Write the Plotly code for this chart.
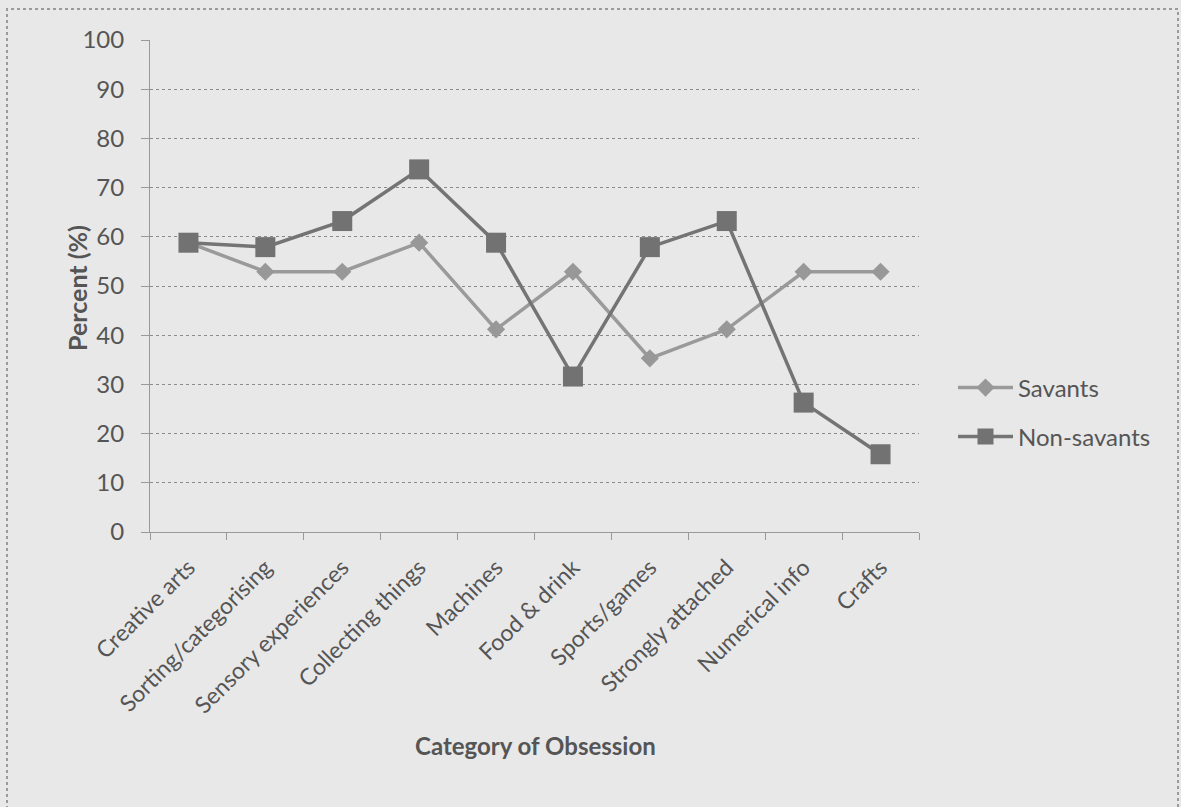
import plotly.graph_objects as go

# Categories of obsession and percentages for each group
categories = [
    "Creative arts", "Sorting/categorising", "Sensory experiences",
    "Collecting things", "Machines", "Food & drink", "Sports/games",
    "Strongly attached", "Numerical info", "Crafts",
]
savants = [58.8, 52.9, 52.9, 58.8, 41.2, 52.9, 35.3, 41.2, 52.9, 52.9]
non_savants = [58.8, 57.9, 63.2, 73.7, 58.8, 31.6, 57.9, 63.2, 26.3, 15.8]
y_ticks = [0, 10, 20, 30, 40, 50, 60, 70, 80, 90, 100]

BG = "#e8e8e8"
TEXT = "#555555"
FONT = "Lato, 'Open Sans', sans-serif"

fig = go.Figure()

fig.add_trace(go.Scatter(
    x=categories, y=savants, name="Savants", mode="lines+markers",
    line=dict(color="#9a9a9a", width=3.5),
    marker=dict(symbol="diamond", size=14, color="#989898"),
    legend="legend",
))
fig.add_trace(go.Scatter(
    x=categories, y=non_savants, name="Non-savants", mode="lines+markers",
    line=dict(color="#747474", width=3.5),
    marker=dict(symbol="square", size=20, color="#727272"),
    legend="legend2",
))

W, H = 1181, 807
L, R, T, B = 150, 919, 40, 532
pw, ph = R - L, B - T

def px_x(p):
    return (p - L) / pw

def px_y(p):
    return (B - p) / ph

legend_style = dict(xanchor="left", yanchor="middle", itemwidth=55,
                    bgcolor="rgba(0,0,0,0)", font=dict(size=24, color=TEXT))

fig.update_layout(
    width=W, height=H,
    margin=dict(l=L, r=W - R, t=T, b=H - B),
    paper_bgcolor=BG, plot_bgcolor=BG,
    font=dict(family=FONT, color=TEXT, size=24),
    showlegend=True,
    legend=dict(x=px_x(953), y=px_y(388), **legend_style),
    legend2=dict(x=px_x(953), y=px_y(437), **legend_style),
    xaxis=dict(
        type="category", categoryorder="array", categoryarray=categories,
        tickangle=-45, tickson="boundaries", ticks="outside", ticklen=7,
        tickcolor="#999999", showgrid=False, showline=True,
        linecolor="#999999", linewidth=1, ticklabelstandoff=12,
        tickfont=dict(size=23, color=TEXT, family=FONT),
        range=[-0.5, len(categories) - 0.5],
    ),
    yaxis=dict(
        range=[0, 100], tickvals=y_ticks, ticks="outside", ticklen=8,
        tickcolor="#999999", showgrid=True, gridcolor="#8a8a8a", griddash="dot",
        gridwidth=1, showline=True, linecolor="#999999", linewidth=1,
        zeroline=False, ticklabelstandoff=12,
        tickfont=dict(size=24, color=TEXT, family=FONT),
    ),
    annotations=[
        dict(text="<b>Percent (%)</b>", xref="paper", yref="paper",
             x=px_x(60), y=px_y(288), textangle=-90, showarrow=False,
             font=dict(size=25, color=TEXT, family=FONT)),
        dict(text="<b>Category of Obsession</b>", xref="paper", yref="paper",
             x=px_x(535), y=px_y(762), showarrow=False,
             font=dict(size=24, color=TEXT, family=FONT)),
    ],
    shapes=[
        dict(type="rect", xref="paper", yref="paper",
             x0=px_x(7), x1=px_x(1178), y0=px_y(830), y1=px_y(9),
             line=dict(color="#9a9a9a", width=2, dash="dot"), layer="below"),
    ],
)

fig.write_html("out.html")
